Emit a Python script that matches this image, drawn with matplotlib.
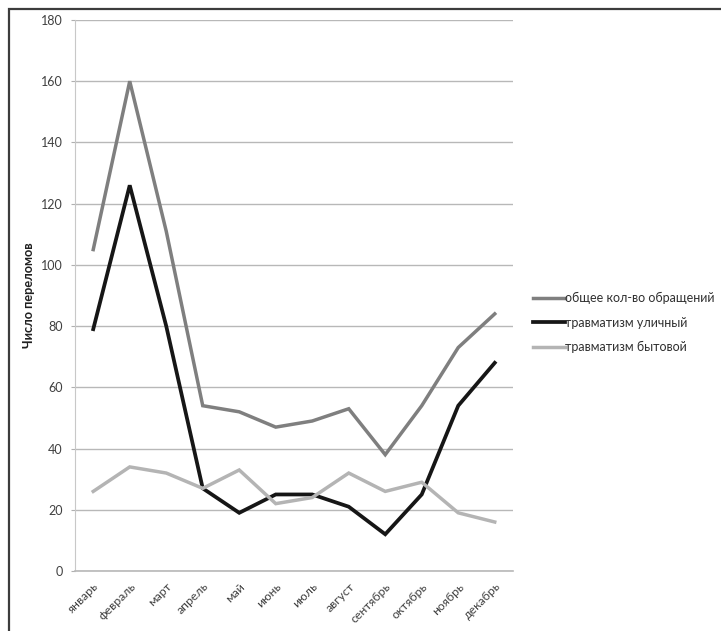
import matplotlib
matplotlib.use("Agg")
import matplotlib.pyplot as plt
from matplotlib.patches import Rectangle

months = ["январь", "февраль", "март", "апрель", "май", "июнь",
          "июль", "август", "сентябрь", "октябрь", "ноябрь", "декабрь"]
total = [105, 160, 111, 54, 52, 47, 49, 53, 38, 54, 73, 84]
street = [79, 126, 80, 27, 19, 25, 25, 21, 12, 25, 54, 68]
home = [26, 34, 32, 27, 33, 22, 24, 32, 26, 29, 19, 16]
series_names = ["общее кол-во обращений", "травматизм уличный", "травматизм бытовой"]
y_ticks = list(range(0, 181, 20))

plt.rcParams["font.family"] = ["Lato", "DejaVu Sans"]

fig = plt.figure(figsize=(7.21, 6.31), dpi=100)
ax = fig.add_axes([0.104, 0.0951, 0.6075, 0.8732])

x = list(range(len(months)))
ax.plot(x, total, color="#7f7f7f", lw=2.5, label=series_names[0], solid_joinstyle="miter")
ax.plot(x, street, color="#161616", lw=2.7, label=series_names[1], solid_joinstyle="miter")
ax.plot(x, home, color="#b4b4b4", lw=2.5, label=series_names[2], solid_joinstyle="miter")

ax.set_xlim(-0.5, len(months) - 0.5)
ax.set_ylim(0, 180)
ax.set_yticks(y_ticks)
ax.set_yticklabels([str(v) for v in y_ticks], fontsize=9, color="#404040")
ax.set_xticks(x)
ax.set_xticklabels(months, rotation=45, ha="right", rotation_mode="anchor",
                   fontsize=8.8, color="#404040")
ax.tick_params(axis="x", length=0, pad=7)
ax.tick_params(axis="y", length=3, color="#b0b0b0", pad=6)
ax.grid(axis="y", color="#b8b8b8", lw=1)
ax.set_axisbelow(True)
for side in ["top", "right"]:
    ax.spines[side].set_visible(False)
ax.spines["left"].set_color("#c8c8c8")
ax.spines["bottom"].set_color("#b8b8b8")
ax.spines["bottom"].set_linewidth(1.2)

ax.set_ylabel("Число переломов", fontsize=9.2, fontweight="bold", color="#202020")
ax.yaxis.set_label_coords(-0.091, 0.5)

leg = fig.legend(loc="upper left", bbox_to_anchor=(0.733, 0.545), frameon=False,
                 fontsize=9, handlelength=2.5, handletextpad=0.05,
                 labelspacing=1.0, borderaxespad=0)
for t in leg.get_texts():
    t.set_color("#303030")

# outer border of the chart area
fig.patches.append(Rectangle((9 / 721, -0.05), 1.2, 1 - 9 / 631 + 0.05,
                             transform=fig.transFigure, fill=False,
                             edgecolor="#3c3c3c", lw=1.6))

fig.savefig("out.png", dpi=100)
